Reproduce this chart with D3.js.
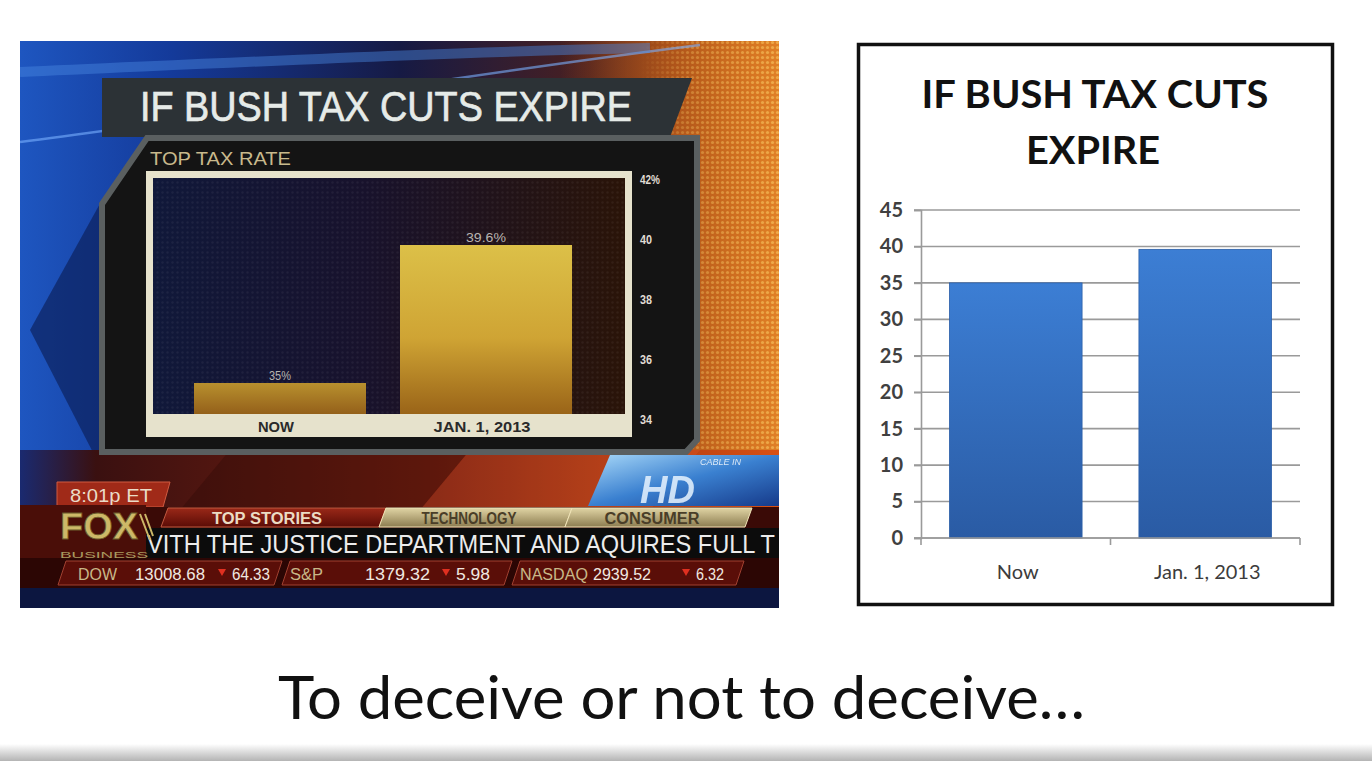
<!DOCTYPE html>
<html><head><meta charset="utf-8">
<script src="https://cdn.jsdelivr.net/npm/d3@7"></script>
<style>body{margin:0;background:#fff}svg{display:block}</style>
</head><body>
<svg id="c" width="1372" height="761"></svg>
<script>
// ---------- DATA ----------
const foxCategories = ["NOW", "JAN. 1, 2013"];
const foxValues = [35, 39.6];
const foxValueLabels = ["35%", "39.6%"];
const foxTicks = [34, 36, 38, 40, 42];
const foxTickLabels = ["34", "36", "38", "40", "42%"];

const cleanCategories = ["Now", "Jan. 1, 2013"];
const cleanValues = [35, 39.6];
const cleanTicks = [0, 5, 10, 15, 20, 25, 30, 35, 40, 45];

const tickerNames = ["DOW", "S&P", "NASDAQ"];
const tickerLevels = ["13008.68", "1379.32", "2939.52"];
const tickerChanges = ["64.33", "5.98", "6.32"];
const tabLabels = ["TOP STORIES", "TECHNOLOGY", "CONSUMER"];
const crawlText = "VITH THE JUSTICE DEPARTMENT AND AQUIRES FULL T";

const svg = d3.select("#c");
const defs = svg.append("defs");
const NARROW = "'Liberation Sans Narrow','Liberation Sans',Arial,sans-serif";

function lin(id, stops, x2, y2) {
  const g = defs.append("linearGradient").attr("id", id)
    .attr("x1", 0).attr("y1", 0).attr("x2", x2).attr("y2", y2);
  stops.forEach(s => g.append("stop").attr("offset", s[0]).attr("stop-color", s[1])
    .attr("stop-opacity", s[2] === undefined ? 1 : s[2]));
}
lin("bgH", [[0, "#1e56c0"], [0.2, "#143a9a"], [0.5, "#161a44"], [0.75, "#4a2020"], [1, "#b85a18"]], 1, 0);
lin("orangeFade", [[0, "#c86018", 0], [0.5, "#c86018", 0.65], [1, "#e08026", 1]], 1, 0);
lin("tickerBg", [[0, "#1a2a70"], [0.1, "#3a1010"], [0.55, "#7a2010"], [1, "#d85014"]], 1, 0);
lin("innerBg", [[0, "#10183a"], [0.45, "#18122c"], [1, "#2a1408"]], 1, 0);
lin("foxBar", [[0, "#dcc048"], [0.55, "#cfa434"], [1, "#9a6418"]], 0, 1);
lin("foxBar2", [[0, "#b8902e"], [1, "#94601a"]], 0, 1);
lin("blueBar", [[0, "#3c7ed4"], [1, "#2a5ba4"]], 0, 1);
lin("tanTab", [[0, "#e0d4a4"], [1, "#8c7c50"]], 0, 1);
lin("redTab", [[0, "#9a2818"], [1, "#5a0c06"]], 0, 1);
lin("hd", [[0, "#a8d8f8"], [0.5, "#3a80d0"], [1, "#163a8a"]], 1, 1);
lin("bottomStrip", [[0, "#ffffff"], [1, "#b4b4b4"]], 0, 1);
lin("dotFade", [[0, "#fff", 0], [0.35, "#fff", 0.6], [1, "#fff", 1]], 1, 0);

const dots = defs.append("pattern").attr("id", "dots").attr("width", 5).attr("height", 5)
  .attr("patternUnits", "userSpaceOnUse");
dots.append("circle").attr("cx", 2.5).attr("cy", 2.5).attr("r", 1.6).attr("fill", "#ffd870");
const dots2 = defs.append("pattern").attr("id", "dots2").attr("width", 5).attr("height", 5)
  .attr("patternUnits", "userSpaceOnUse");
dots2.append("circle").attr("cx", 2.5).attr("cy", 2.5).attr("r", 1.2).attr("fill", "#ffffff");
const mask = defs.append("mask").attr("id", "dotMask");
mask.append("rect").attr("x", 640).attr("y", 41).attr("width", 140).attr("height", 420).attr("fill", "url(#dotFade)");
const clip = defs.append("clipPath").attr("id", "foxClip");
clip.append("rect").attr("x", 20).attr("y", 41).attr("width", 759).attr("height", 567);

// ---------- LEFT: FOX SCREENSHOT ----------
const fox = svg.append("g").attr("clip-path", "url(#foxClip)");
fox.append("rect").attr("x", 20).attr("y", 41).attr("width", 759).attr("height", 567).attr("fill", "url(#bgH)");
fox.append("rect").attr("x", 560).attr("y", 41).attr("width", 219).attr("height", 420).attr("fill", "url(#orangeFade)");
fox.append("rect").attr("x", 640).attr("y", 41).attr("width", 139).attr("height", 420).attr("fill", "url(#dots)")
  .attr("opacity", 0.5).attr("mask", "url(#dotMask)");
// blue streaks
fox.append("path").attr("d", "M20,142 C200,120 420,80 700,45").attr("stroke", "#7ab0ff").attr("stroke-width", 2.5).attr("fill", "none").attr("opacity", 0.6);
fox.append("path").attr("d", "M20,72 C250,62 450,52 650,48").attr("stroke", "#4a88e0").attr("stroke-width", 10).attr("fill", "none").attr("opacity", 0.45);
// left chevron shadow
fox.append("path").attr("d", "M102,200 L30,330 L102,470 Z").attr("fill", "#0a1a50").attr("opacity", 0.6);

// ticker background region
fox.append("rect").attr("x", 20).attr("y", 450).attr("width", 759).attr("height", 60).attr("fill", "url(#tickerBg)");
fox.append("path").attr("d", "M230,450 L470,450 L420,510 L180,510 Z").attr("fill", "#2a0806").attr("opacity", 0.35);
fox.append("path").attr("d", "M470,450 L700,450 L650,510 L420,510 Z").attr("fill", "#ff7040").attr("opacity", 0.15);

// title band
fox.append("path").attr("d", "M102,78 L692,78 L670,137 L102,137 Z").attr("fill", "#2c3236");
fox.append("text").attr("x", 140).attr("y", 121).attr("font-family", "'Liberation Sans',Arial,sans-serif")
  .attr("font-size", 42).attr("fill", "#e6ebe8").attr("stroke", "#e6ebe8").attr("stroke-width", 0.7)
  .attr("textLength", 492).attr("lengthAdjust", "spacingAndGlyphs")
  .text("IF BUSH TAX CUTS EXPIRE");

// chart panel
fox.append("path").attr("d", "M147,138 L697,138 L697,440 L686,452 L102,452 L102,204 Z")
  .attr("fill", "#141414").attr("stroke", "#5a5f60").attr("stroke-width", 6);
fox.append("text").attr("x", 150).attr("y", 165).attr("font-family", NARROW)
  .attr("font-size", 19).attr("fill", "#c8b98c").attr("textLength", 141).attr("lengthAdjust", "spacingAndGlyphs")
  .text("TOP TAX RATE");

// inner frame
const fx0 = 146, fx1 = 632, fy0 = 171, fy1 = 437;
fox.append("rect").attr("x", fx0).attr("y", fy0).attr("width", fx1 - fx0).attr("height", fy1 - fy0).attr("fill", "#e6e2cc");
fox.append("rect").attr("x", fx0 + 7).attr("y", fy0 + 7).attr("width", fx1 - fx0 - 14).attr("height", 414 - fy0 - 7).attr("fill", "url(#innerBg)");
fox.append("rect").attr("x", fx0 + 7).attr("y", fy0 + 7).attr("width", fx1 - fx0 - 14).attr("height", 414 - fy0 - 7).attr("fill", "url(#dots2)").attr("opacity", 0.05);

const fxScale = d3.scaleBand().domain(foxCategories).range([160, 606]).paddingInner(0.165).paddingOuter(0.165);
const fyScale = d3.scaleLinear().domain([34, 42]).range([413, 173]);

fox.selectAll("rect.foxbar").data(foxValues).join("rect").attr("class", "foxbar")
  .attr("x", (d, i) => fxScale(foxCategories[i])).attr("width", fxScale.bandwidth())
  .attr("y", d => fyScale(d)).attr("height", d => fyScale(34) + 1 - fyScale(d))
  .attr("fill", (d, i) => i === 0 ? "url(#foxBar2)" : "url(#foxBar)");
const valW = [22, 40];
fox.selectAll("text.foxval").data(foxValueLabels).join("text").attr("class", "foxval")
  .attr("x", (d, i) => fxScale(foxCategories[i]) + fxScale.bandwidth() / 2)
  .attr("y", (d, i) => fyScale(foxValues[i]) - 3)
  .attr("text-anchor", "middle").attr("font-family", NARROW).attr("font-size", 12).attr("fill", "#b8b4b0")
  .attr("textLength", (d, i) => valW[i]).attr("lengthAdjust", "spacingAndGlyphs")
  .text(d => d);
const catW = [36, 97];
fox.selectAll("text.foxcat").data(foxCategories).join("text").attr("class", "foxcat")
  .attr("x", d => fxScale(d) + fxScale.bandwidth() / 2 - 4).attr("y", 432)
  .attr("text-anchor", "middle").attr("font-family", NARROW).attr("font-weight", "bold")
  .attr("font-size", 15).attr("fill", "#2a2a2a")
  .attr("textLength", (d, i) => catW[i]).attr("lengthAdjust", "spacingAndGlyphs").text(d => d);

// right axis of fox chart
const foxAxis = d3.axisRight(fyScale).tickValues(foxTicks).tickSize(0).tickPadding(0)
  .tickFormat((d, i) => foxTickLabels[i]);
const fa = fox.append("g").attr("transform", "translate(640,6)").call(foxAxis);
fa.select(".domain").remove();
fa.selectAll("text").attr("font-family", NARROW).attr("font-size", 13).attr("font-weight", "bold").attr("fill", "#e0dcd4")
  .attr("textLength", (d, i) => i === 4 ? 20 : 12).attr("lengthAdjust", "spacingAndGlyphs");

// ---------- TICKER ----------
fox.append("path").attr("d", "M57,482 L170,482 L163,507 L57,507 Z").attr("fill", "#a02a18").attr("stroke", "#d05a40").attr("stroke-width", 1);
fox.append("text").attr("x", 70).attr("y", 502).attr("font-family", NARROW).attr("font-size", 19)
  .attr("fill", "#eadcc8").attr("textLength", 82).attr("lengthAdjust", "spacingAndGlyphs").text("8:01p ET");
fox.append("rect").attr("x", 20).attr("y", 507).attr("width", 759).attr("height", 21).attr("fill", "#3a0a06");
const tabX = [[168, 386], [386, 572], [572, 752]];
tabLabels.forEach((t, i) => {
  const [a, b] = tabX[i];
  fox.append("path").attr("d", `M${a},508 L${b},508 L${b - 7},527 L${a - 7},527 Z`)
    .attr("fill", i === 0 ? "url(#redTab)" : "url(#tanTab)").attr("stroke", i === 0 ? "#c05a40" : "#f0e4b8").attr("stroke-width", 1);
  fox.append("text").attr("x", (a + b) / 2 - 10).attr("y", 524).attr("text-anchor", "middle")
    .attr("font-family", NARROW).attr("font-weight", "bold").attr("font-size", 16)
    .attr("fill", i === 0 ? "#ecdcc4" : "#4a3e28").attr("textLength", i === 0 ? 110 : 95)
    .attr("lengthAdjust", "spacingAndGlyphs").text(t);
});
fox.append("rect").attr("x", 20).attr("y", 528).attr("width", 759).attr("height", 30).attr("fill", "#0c0c0c");
fox.append("text").attr("x", 147).attr("y", 553).attr("font-family", "'Liberation Sans',Arial,sans-serif")
  .attr("font-size", 25).attr("fill", "#ececec").attr("textLength", 628).attr("lengthAdjust", "spacingAndGlyphs").text(crawlText);
// FOX logo
fox.append("rect").attr("x", 20).attr("y", 505).attr("width", 126).attr("height", 53).attr("fill", "#4a0e08");
fox.append("text").attr("x", 60).attr("y", 539).attr("font-family", "'Liberation Sans',Arial,sans-serif").attr("font-weight", "bold")
  .attr("font-size", 36).attr("fill", "#cdb868").attr("stroke", "#6a5a2a").attr("stroke-width", 0.8)
  .attr("textLength", 78).attr("lengthAdjust", "spacingAndGlyphs").text("FOX");
fox.append("path").attr("d", "M140,514 L150,540 M145,514 L153,536").attr("stroke", "#cdb868").attr("stroke-width", 2);
fox.append("text").attr("x", 60).attr("y", 558).attr("font-family", NARROW).attr("font-size", 9)
  .attr("fill", "#a89a60").attr("textLength", 88).attr("lengthAdjust", "spacingAndGlyphs").text("BUSINESS");
// stock line
fox.append("rect").attr("x", 20).attr("y", 558).attr("width", 759).attr("height", 30).attr("fill", "#2c0604");
const stockX = [[58, 282], [282, 512], [512, 744]];
const nameX = [78, 290, 520], nameW = [39, 33, 68];
const levX = [135, 365, 593], levW = [70, 65, 58];
const chX = [232, 456, 696], chW = [38, 34, 28];
tickerNames.forEach((n, i) => {
  const [a, b] = stockX[i];
  fox.append("path").attr("d", `M${a + 8},561 L${b},561 L${b - 8},585 L${a},585 Z`)
    .attr("fill", "#5a0e08").attr("stroke", "#a04030").attr("stroke-width", 1);
  fox.append("text").attr("x", nameX[i]).attr("y", 580).attr("font-family", NARROW).attr("font-size", 16)
    .attr("fill", "#c8b888").attr("textLength", nameW[i]).attr("lengthAdjust", "spacingAndGlyphs").text(n);
  fox.append("text").attr("x", levX[i]).attr("y", 580).attr("font-family", NARROW).attr("font-size", 16)
    .attr("fill", "#f0e8e0").attr("textLength", levW[i]).attr("lengthAdjust", "spacingAndGlyphs").text(tickerLevels[i]);
  const tx = chX[i] - 10;
  fox.append("path").attr("d", `M${tx - 4},569 L${tx + 4},569 L${tx},576 Z`).attr("fill", "#e03020");
  fox.append("text").attr("x", chX[i]).attr("y", 580).attr("font-family", NARROW).attr("font-size", 16)
    .attr("fill", "#f0e8e0").attr("textLength", chW[i]).attr("lengthAdjust", "spacingAndGlyphs").text(tickerChanges[i]);
});
fox.append("rect").attr("x", 20).attr("y", 588).attr("width", 759).attr("height", 20).attr("fill", "#0c1640");

// HD logo
fox.append("path").attr("d", "M610,455 L779,455 L779,506 L588,506 Z").attr("fill", "url(#hd)");
fox.append("text").attr("x", 640).attr("y", 503).attr("font-family", "'Liberation Sans',Arial,sans-serif")
  .attr("font-style", "italic").attr("font-weight", "bold").attr("font-size", 38).attr("fill", "#e8f4ff")
  .attr("opacity", 0.85).text("HD");
fox.append("text").attr("x", 700).attr("y", 465).attr("font-family", NARROW).attr("font-style", "italic")
  .attr("font-size", 9).attr("fill", "#ffffff").attr("opacity", 0.8).text("CABLE IN");

// ---------- RIGHT: CLEAN CHART ----------
const right = svg.append("g");
right.append("rect").attr("x", 858.5).attr("y", 44.5).attr("width", 474).attr("height", 560)
  .attr("fill", "#fff").attr("stroke", "#111").attr("stroke-width", 3.5);
right.append("text").attr("x", 1095).attr("y", 108).attr("text-anchor", "middle")
  .attr("font-family", "Lato,'Open Sans',sans-serif").attr("font-weight", "bold").attr("font-size", 38)
  .attr("fill", "#111").attr("textLength", 347).attr("lengthAdjust", "spacingAndGlyphs").text("IF BUSH TAX CUTS");
right.append("text").attr("x", 1093).attr("y", 164).attr("text-anchor", "middle")
  .attr("font-family", "Lato,'Open Sans',sans-serif").attr("font-weight", "bold").attr("font-size", 38)
  .attr("fill", "#111").attr("textLength", 134).attr("lengthAdjust", "spacingAndGlyphs").text("EXPIRE");

const cx = d3.scaleBand().domain(cleanCategories).range([921, 1300]).paddingInner(0.3).paddingOuter(0.15);
const cy = d3.scaleLinear().domain([0, 45]).range([538, 210]);

right.append("g").selectAll("line").data(cleanTicks).join("line")
  .attr("x1", 914).attr("x2", 1300).attr("y1", d => cy(d)).attr("y2", d => cy(d))
  .attr("stroke", "#9a9a9a").attr("stroke-width", 1.6);
const yAx = d3.axisLeft(cy).tickValues(cleanTicks).tickSize(7).tickPadding(11);
const ya = right.append("g").attr("transform", "translate(921,0)").call(yAx);
ya.select(".domain").attr("stroke", "#9a9a9a").attr("stroke-width", 1.6);
ya.selectAll(".tick line").attr("stroke", "#9a9a9a").attr("stroke-width", 1.6);
ya.selectAll("text").attr("font-family", "Lato,'Open Sans',sans-serif").attr("font-weight", "bold")
  .attr("font-size", 20).attr("fill", "#404040");

right.selectAll("rect.cbar").data(cleanValues).join("rect").attr("class", "cbar")
  .attr("x", (d, i) => cx(cleanCategories[i])).attr("width", cx.bandwidth())
  .attr("y", d => cy(d)).attr("height", d => cy(0) - cy(d))
  .attr("fill", "url(#blueBar)").attr("stroke", "#2c5fa8").attr("stroke-width", 0.8);

const xa = right.append("g").attr("transform", "translate(0,538)");
xa.append("line").attr("x1", 914).attr("x2", 1300).attr("stroke", "#9a9a9a").attr("stroke-width", 1.6);
const boundaries = [cx.range()[0], (cx.range()[0] + cx.range()[1]) / 2, cx.range()[1]];
xa.selectAll("line.tk").data(boundaries).join("line").attr("class", "tk")
  .attr("x1", d => d).attr("x2", d => d).attr("y1", 0).attr("y2", 7)
  .attr("stroke", "#9a9a9a").attr("stroke-width", 1.6);
xa.selectAll("text").data(cleanCategories).join("text")
  .attr("x", d => cx(d) + cx.bandwidth() / 2 + 2).attr("y", 41).attr("text-anchor", "middle")
  .attr("font-family", "Lato,'Open Sans',sans-serif").attr("font-size", 20).attr("fill", "#3c3c3c").text(d => d);

// ---------- CAPTION ----------
svg.append("text").attr("x", 278).attr("y", 719)
  .attr("font-family", "Lato,'Open Sans',sans-serif").attr("font-size", 60).attr("fill", "#111")
  .attr("textLength", 807).attr("lengthAdjust", "spacingAndGlyphs").text("To deceive or not to deceive…");
svg.append("rect").attr("x", 0).attr("y", 744).attr("width", 1372).attr("height", 17).attr("fill", "url(#bottomStrip)");
</script>
</body></html>
